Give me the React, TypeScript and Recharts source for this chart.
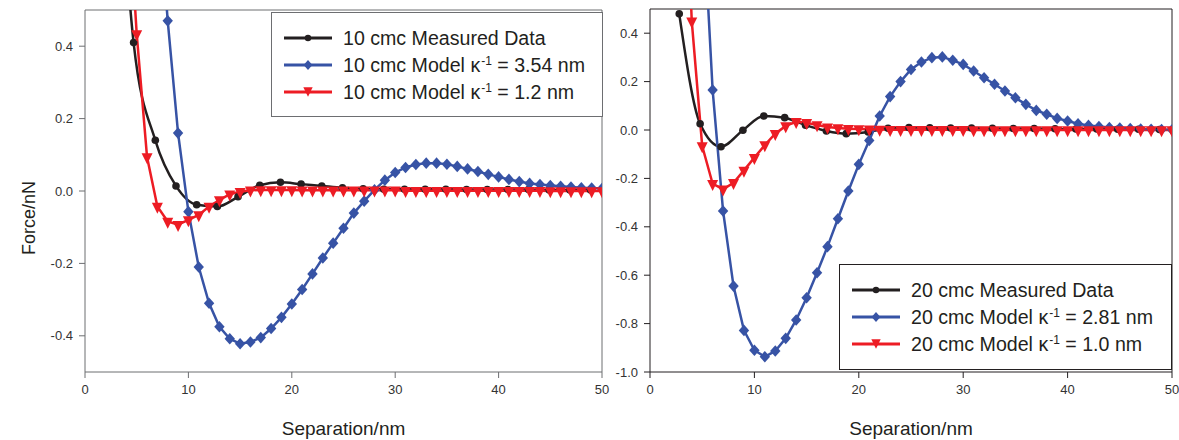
import { LineChart, Line, XAxis, YAxis, Legend, ReferenceLine } from 'recharts';

const FONT = '"Liberation Sans", Arial, Helvetica, sans-serif';
const BLACK = '#231f20';
const BLUE = '#3753a5';
const RED = '#ed1c24';

const xTicks = [0, 10, 20, 30, 40, 50];
const yTicks10 = [-0.4, -0.2, 0, 0.2, 0.4];
const yTicks20 = [-1.0, -0.8, -0.6, -0.4, -0.2, 0, 0.2, 0.4];

// 10 cmc panel
const measured10X = [2.7, 4.7, 6.8, 8.8, 10.8, 12.8, 14.8, 16.9, 18.9, 20.9, 22.9, 24.9, 26.9, 28.9, 30.9, 32.9, 34.9, 36.9, 38.9, 40.9, 42.9, 44.9, 46.9, 48.9];
const measured10Y = [1.2, 0.41, 0.14, 0.014, -0.038, -0.043, -0.016, 0.016, 0.024, 0.019, 0.014, 0.009, 0.006, 0.005, 0.005, 0.005, 0.005, 0.004, 0.004, 0.004, 0.004, 0.003, 0.003, 0.003];

const model10aX = [7, 8, 9, 10, 11, 12, 13, 14, 15, 16, 17, 18, 19, 20, 21, 22, 23, 24, 25, 26, 27, 28, 29, 30, 31, 32, 33, 34, 35, 36, 37, 38, 39, 40, 41, 42, 43, 44, 45, 46, 47, 48, 49, 50];
const model10aY = [0.85, 0.47, 0.16, -0.057, -0.21, -0.31, -0.375, -0.408, -0.422, -0.417, -0.405, -0.38, -0.349, -0.312, -0.272, -0.229, -0.185, -0.144, -0.103, -0.061, -0.028, 0.003, 0.03, 0.051, 0.065, 0.073, 0.077, 0.077, 0.074, 0.068, 0.061, 0.054, 0.046, 0.039, 0.032, 0.026, 0.021, 0.018, 0.015, 0.013, 0.011, 0.009, 0.008, 0.007];

const model10bX = [4, 5, 6, 7, 8, 9, 10, 11, 12, 13, 14, 15, 16, 17, 18, 19, 20, 21, 22, 23, 24, 25, 26, 27, 28, 29, 30, 31, 32, 33, 34, 35, 36, 37, 38, 39, 40, 41, 42, 43, 44, 45, 46, 47, 48, 49, 50];
const model10bY = [0.9, 0.434, 0.094, -0.043, -0.084, -0.093, -0.08, -0.066, -0.043, -0.025, -0.009, -0.002, 0.002, 0.003, 0.003, 0.003, 0.003, 0.002, 0.002, 0.002, 0.002, 0.002, 0.002, 0.002, 0.002, 0.002, 0.002, 0.001, 0.001, 0.001, 0.001, 0.001, 0.001, 0.001, 0.001, 0.001, 0.001, 0.001, 0.001, 0.001, 0.001, 0, 0, 0, 0, 0, 0];

// 20 cmc panel
const measured20X = [2.8, 4.8, 6.8, 8.9, 10.9, 12.9, 14.9, 16.9, 18.8, 20.9, 22.8, 24.8, 26.8, 28.8, 30.8, 32.8, 34.8, 36.8, 38.8, 40.8, 42.8, 44.8, 46.8, 48.8];
const measured20Y = [0.48, 0.026, -0.069, -0.001, 0.058, 0.051, 0.02, -0.004, -0.015, -0.008, 0.007, 0.01, 0.009, 0.008, 0.008, 0.007, 0.006, 0.006, 0.005, 0.004, 0.004, 0.003, 0.003, 0.002];

const model20aX = [5, 6, 7, 8, 9, 10, 11, 12, 13, 14, 15, 16, 17, 18, 19, 20, 21, 22, 23, 24, 25, 26, 27, 28, 29, 30, 31, 32, 33, 34, 35, 36, 37, 38, 39, 40, 41, 42, 43, 44, 45, 46, 47, 48, 49, 50];
const model20aY = [0.97, 0.165, -0.335, -0.645, -0.828, -0.91, -0.937, -0.913, -0.861, -0.785, -0.693, -0.59, -0.482, -0.367, -0.252, -0.142, -0.043, 0.058, 0.138, 0.2, 0.25, 0.281, 0.299, 0.302, 0.288, 0.271, 0.244, 0.216, 0.189, 0.161, 0.133, 0.106, 0.081, 0.065, 0.048, 0.037, 0.026, 0.019, 0.014, 0.01, 0.008, 0.006, 0.004, 0.003, 0.002, 0.001];

const model20bX = [3, 4, 5, 6, 7, 8, 9, 10, 11, 12, 13, 14, 15, 16, 17, 18, 19, 20, 21, 22, 23, 24, 25, 26, 27, 28, 29, 30, 31, 32, 33, 34, 35, 36, 37, 38, 39, 40, 41, 42, 43, 44, 45, 46, 47, 48, 49, 50];
const model20bY = [1.5, 0.45, -0.066, -0.222, -0.245, -0.218, -0.167, -0.114, -0.062, -0.015, 0.017, 0.034, 0.03, 0.021, 0.012, 0.008, 0.005, 0.004, 0.003, 0.002, 0.001, 0.001, 0.001, 0.001, 0.001, 0.001, 0.001, 0.001, 0, 0, 0, 0, 0, 0, 0, 0, 0, 0, 0, 0, 0, 0, 0, 0, 0, 0, 0, 0];

const legendNames10 = ['10 cmc Measured Data', '10 cmc Model', '10 cmc Model'];
const legendValues10 = ['', ' = 3.54 nm', ' = 1.2 nm'];
const legendNames20 = ['20 cmc Measured Data', '20 cmc Model', '20 cmc Model'];
const legendValues20 = ['', ' = 2.81 nm', ' = 1.0 nm'];

const toPoints = (xs: number[], ys: number[]) => xs.map((x, i) => ({ x, y: ys[i] }));

type MarkerKind = 'circle' | 'diamond' | 'triangle';

function markerShape(kind: MarkerKind, cx: number, cy: number, color: string, scale = 1, key?: string) {
  if (kind === 'circle') {
    return <circle key={key} cx={cx} cy={cy} r={3.8 * scale} fill={color} />;
  }
  if (kind === 'diamond') {
    const w = 5.2 * scale;
    const h = 5.8 * scale;
    return <path key={key} d={`M${cx},${cy - h}L${cx + w},${cy}L${cx},${cy + h}L${cx - w},${cy}Z`} fill={color} />;
  }
  const w = 5.5 * scale;
  return (
    <path
      key={key}
      d={`M${cx - w},${cy - 3.7 * scale}L${cx + w},${cy - 3.7 * scale}L${cx},${cy + 7.3 * scale}Z`}
      fill={color}
    />
  );
}

const makeDot = (kind: MarkerKind, color: string) => (props: any) => {
  const { cx, cy, index } = props;
  if (cx == null || cy == null) return <g key={`e-${kind}-${index}`} />;
  return markerShape(kind, cx, cy, color, 1, `m-${kind}-${index}`);
};

interface SeriesDef {
  key: string;
  data: { x: number; y: number }[];
  color: string;
  marker: MarkerKind;
  curve: 'monotone' | 'linear';
}

interface LegendEntry {
  name: string;
  value: string;
  color: string;
  marker: MarkerKind;
}

function LegendBox({ items, border }: { items: LegendEntry[]; border: string }) {
  return (
    <div
      style={{
        boxSizing: 'border-box',
        width: '100%',
        height: '100%',
        border: `1px solid ${border}`,
        background: '#fff',
        padding: '11px 0 0 12px',
        fontFamily: FONT,
        fontSize: 19.6,
        color: BLACK,
      }}
    >
      {items.map((item) => (
        <div key={item.name + item.value} style={{ display: 'flex', alignItems: 'center', height: 27 }}>
          <svg width={48} height={16} style={{ flex: 'none' }}>
            <line x1={0} y1={8} x2={48} y2={8} stroke={item.color} strokeWidth={3} />
            {markerShape(item.marker, 24, item.marker === 'triangle' ? 6.5 : 8, item.color, 0.85)}
          </svg>
          <span style={{ marginLeft: 11, whiteSpace: 'nowrap', lineHeight: '20px' }}>
            {item.name}
            {item.value ? (
              <>
                {' κ'}
                <sup style={{ fontSize: 12, verticalAlign: 'top', position: 'relative', top: -4, marginLeft: 1 }}>-1</sup>
                {item.value}
              </>
            ) : null}
          </span>
        </div>
      ))}
    </div>
  );
}

interface PanelProps {
  left: number;
  width: number;
  yAxisWidth: number;
  marginTop: number;
  marginRight: number;
  yDomain: [number, number];
  yTicks: number[];
  axisColor: string;
  series: SeriesDef[];
  legend: LegendEntry[];
  legendBox: { left: number; top: number; width: number; height: number };
  xLabelX: number;
  yLabel?: string;
}

function Panel(p: PanelProps) {
  const tickStyle = { fill: '#333', fontSize: 13, fontFamily: FONT };
  const labelStyle = { fill: BLACK, fontSize: 19, fontFamily: FONT };
  return (
    <div style={{ position: 'absolute', left: p.left, top: 0 }}>
      <LineChart
        width={p.width}
        height={440}
        margin={{ top: p.marginTop, right: p.marginRight, bottom: 0, left: 0 }}
      >
        <XAxis
          dataKey="x"
          type="number"
          domain={[0, 50]}
          ticks={xTicks}
          interval={0}
          allowDataOverflow
          height={68}
          tickSize={6}
          tickMargin={7}
          stroke={p.axisColor}
          tick={tickStyle}
          label={{
            content: () => (
              <text x={p.xLabelX} y={428} textAnchor="middle" dominantBaseline="central" {...labelStyle}>
                Separation/nm
              </text>
            ),
          }}
        />
        <YAxis
          type="number"
          domain={p.yDomain}
          ticks={p.yTicks}
          interval={0}
          allowDataOverflow
          width={p.yAxisWidth}
          tickSize={6}
          tickMargin={6}
          stroke={p.axisColor}
          tick={tickStyle}
          tickFormatter={(v: number) => v.toFixed(1)}
          label={
            p.yLabel
              ? {
                  content: () => (
                    <text
                      x={29}
                      y={218}
                      transform="rotate(-90 29 218)"
                      textAnchor="middle"
                      dominantBaseline="central"
                      {...labelStyle}
                      fontSize={18}
                    >
                      {p.yLabel}
                    </text>
                  ),
                }
              : undefined
          }
        />
        {/* frame: top and right edges */}
        <ReferenceLine y={p.yDomain[1]} stroke={p.axisColor} strokeWidth={1} ifOverflow="visible" />
        <ReferenceLine x={50} stroke={p.axisColor} strokeWidth={1} ifOverflow="visible" />
        {p.series.map((s) => (
          <Line
            key={s.key}
            data={s.data}
            dataKey="y"
            type={s.curve}
            stroke={s.color}
            strokeWidth={2.5}
            dot={makeDot(s.marker, s.color)}
            activeDot={false}
            isAnimationActive={false}
            legendType="none"
          />
        ))}
        <Legend
          layout="vertical"
          align="center"
          verticalAlign="middle"
          wrapperStyle={{
            left: p.legendBox.left,
            top: p.legendBox.top,
            width: p.legendBox.width,
            height: p.legendBox.height,
          }}
          content={() => <LegendBox items={p.legend} border={p.axisColor} />}
        />
      </LineChart>
    </div>
  );
}

const markers: MarkerKind[] = ['circle', 'diamond', 'triangle'];
const colors = [BLACK, BLUE, RED];

export default function App() {
  const series10: SeriesDef[] = [
    { key: 'm10', data: toPoints(measured10X, measured10Y), color: BLACK, marker: 'circle', curve: 'monotone' },
    { key: 'a10', data: toPoints(model10aX, model10aY), color: BLUE, marker: 'diamond', curve: 'linear' },
    { key: 'b10', data: toPoints(model10bX, model10bY), color: RED, marker: 'triangle', curve: 'linear' },
  ];
  const series20: SeriesDef[] = [
    { key: 'm20', data: toPoints(measured20X, measured20Y), color: BLACK, marker: 'circle', curve: 'monotone' },
    { key: 'a20', data: toPoints(model20aX, model20aY), color: BLUE, marker: 'diamond', curve: 'linear' },
    { key: 'b20', data: toPoints(model20bX, model20bY), color: RED, marker: 'triangle', curve: 'linear' },
  ];
  const legend10 = legendNames10.map((name, i) => ({ name, value: legendValues10[i], color: colors[i], marker: markers[i] }));
  const legend20 = legendNames20.map((name, i) => ({ name, value: legendValues20[i], color: colors[i], marker: markers[i] }));

  return (
    <div style={{ position: 'absolute', left: 0, top: 0, width: 1179, height: 440, background: '#fff' }}>
      <Panel
        left={0}
        width={620}
        yAxisWidth={85}
        marginTop={10}
        marginRight={18}
        yDomain={[-0.5, 0.5]}
        yTicks={yTicks10}
        axisColor="#6d6e71"
        series={series10}
        legend={legend10}
        legendBox={{ left: 271, top: 12, width: 332, height: 105 }}
        xLabelX={343.5}
        yLabel="Force/nN"
      />
      <Panel
        left={600}
        width={579}
        yAxisWidth={50}
        marginTop={9}
        marginRight={7}
        yDomain={[-1, 0.5]}
        yTicks={yTicks20}
        axisColor="#231f20"
        series={series20}
        legend={legend20}
        legendBox={{ left: 239, top: 264, width: 333, height: 106 }}
        xLabelX={311}
      />
    </div>
  );
}
